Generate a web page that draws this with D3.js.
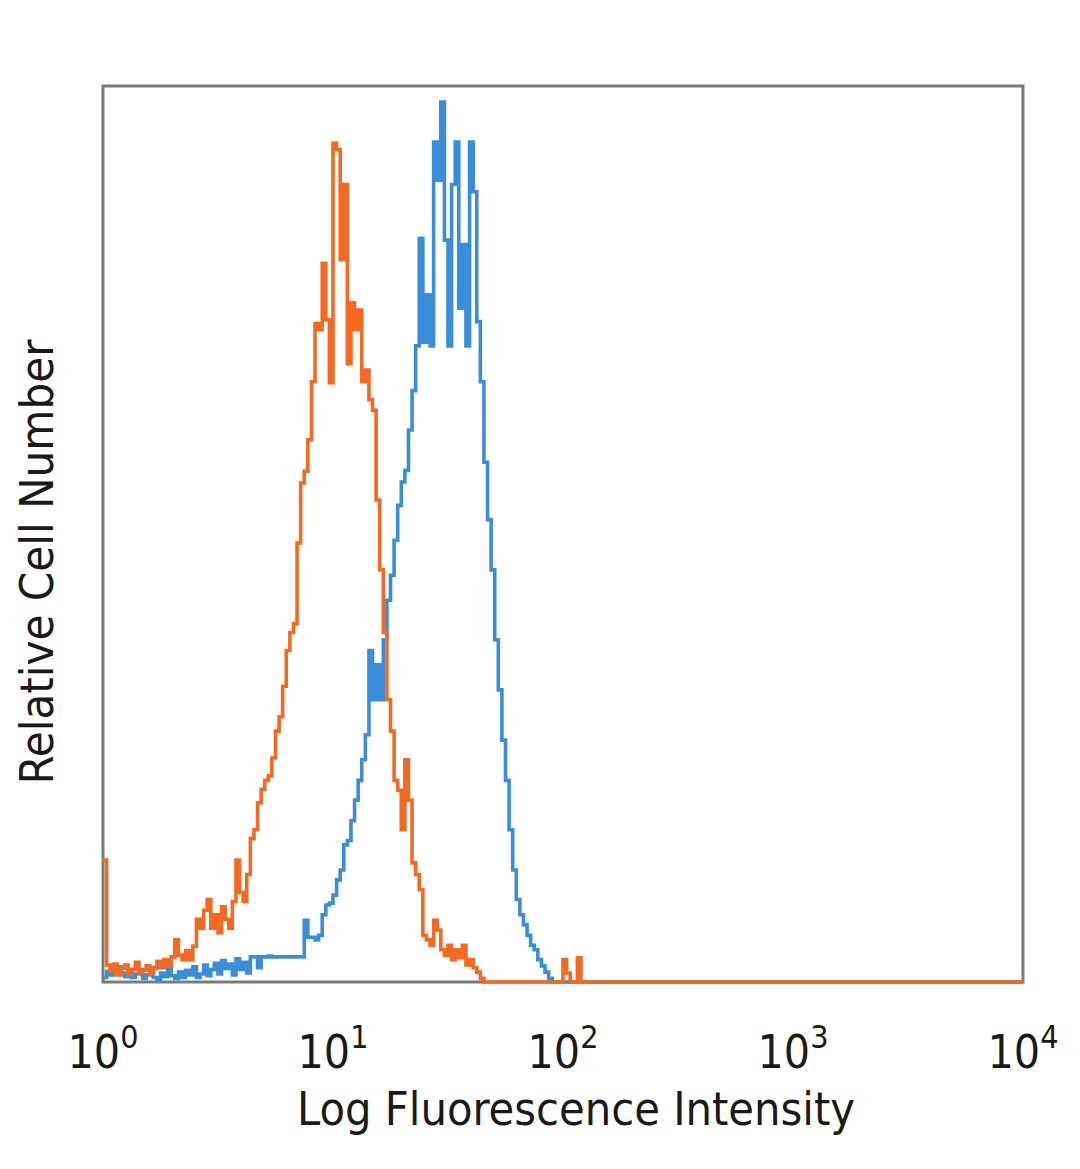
<!DOCTYPE html>
<html>
<head>
<meta charset="utf-8">
<script src="https://cdn.jsdelivr.net/npm/d3@7"></script>
<style>
  html, body { margin: 0; padding: 0; background: #ffffff; }
  svg { display: block; }
</style>
</head>
<body>
<svg id="chart" width="1080" height="1169"></svg>
<script>
// ---- Data (channel counts, 64 channels per decade, starting at 10^0) ----
const channelsPerDecade = 64;
const totalChannels = 256;
const tickExponents = [0, 1, 2, 3, 4];
const xAxisTitle = "Log Fluorescence Intensity";
const yAxisTitle = "Relative Cell Number";

// Orange (control) histogram, channel 0 onward; later channels are 0
const orangeCounts = [
  13.6, 1.9, 1.2, 2.0, 0.8, 1.5, 1.9, 0.9, 1.4, 2.2,
  1.0, 1.3, 1.8, 0.9, 1.5, 2.3, 1.6, 2.5, 1.8, 2.8,
  4.7, 3.0, 2.5, 3.5, 2.5, 4.0, 7.0, 6.0, 8.0, 9.2,
  6.0, 7.5, 5.5, 8.4, 7.0, 6.0, 9.0, 13.6, 10.0, 9.0,
  12.0, 16.0, 17.0, 20.0, 21.5, 22.5, 23.0, 25.0, 28.0, 29.6,
  33.0, 37.0, 39.0, 40.0, 49.0, 55.7, 57.0, 60.5, 67.0, 73.5,
  72.8, 80.2, 73.9, 66.9, 93.6, 92.9, 80.6, 89.0, 69.0, 75.8,
  72.8, 75.0, 67.0, 68.3, 65.0, 63.8, 53.8, 46.0, 39.0, 31.5,
  28.0, 22.5, 21.4, 17.0, 24.8, 20.3, 13.3, 12.0, 10.3, 5.2,
  4.7, 4.1, 6.9, 5.8, 3.6, 3.0, 4.1, 2.5, 3.6, 2.7,
  4.1, 1.9, 2.5, 1.6, 1.1, 0.4, 0, 0, 0, 0,
  0, 0, 0, 0, 0, 0, 0, 0, 0, 0,
  0, 0, 0, 0, 0, 0, 0, 0, 2.5, 1.0,
  0, 0, 2.7, 0, 0, 0
];

// Blue (stained) histogram
const blueCounts = [
  0.5, 1.2, 0.8, 1.6, 1.7, 1.0, 0.6, 1.3, 0.5, 0.9,
  1.4, 0.4, 0.8, 1.6, 0.5, 0.3, 1.0, 0.6, 1.8, 0.7,
  0.4, 1.1, 0.5, 1.3, 0.8, 1.7, 0.5, 0.9, 1.9, 0.7,
  1.4, 2.1, 0.9, 2.4, 1.5, 2.0, 0.8, 2.6, 1.4, 2.2,
  1.0, 2.8, 2.8, 1.6, 2.8, 2.8, 2.9, 2.8, 2.8, 2.8,
  2.8, 2.8, 2.8, 2.8, 2.8, 2.8, 6.9, 5.0, 5.0, 4.7,
  5.2, 7.5, 8.6, 8.8, 9.7, 11.4, 12.5, 15.3, 15.8, 18.0,
  20.3, 22.5, 24.8, 27.6, 37.0, 31.5, 35.4, 31.5, 38.2, 42.6,
  45.4, 49.3, 53.2, 55.8, 57.1, 61.6, 66.0, 71.0, 83.0, 71.4,
  76.7, 71.0, 93.75, 89.5, 98.2, 82.8, 71.0, 89.0, 93.75, 75.2,
  82.3, 71.0, 93.75, 88.2, 73.7, 67.0, 58.0, 51.6, 46.0, 38.2,
  32.6, 27.0, 22.5, 17.0, 12.5, 9.2, 7.5, 6.4, 5.2, 4.1,
  3.6, 2.5, 1.8, 1.1, 0.4, 0
];

// ---- Layout ----
const margin = { left: 103, top: 86, right: 1023, bottom: 982 };
const svg = d3.select("#chart");

const x = d3.scaleLog().domain([1, 1e4]).range([margin.left, margin.right]);
const y = d3.scaleLinear().domain([0, 100]).range([margin.bottom, margin.top]);

function toPoints(counts) {
  const pts = counts.map((c, i) => [Math.pow(10, i / channelsPerDecade), c]);
  pts.push([Math.pow(10, counts.length / channelsPerDecade), 0]);
  pts.push([Math.pow(10, totalChannels / channelsPerDecade), 0]);
  return pts;
}

const line = d3.line()
  .x(d => x(d[0]))
  .y(d => y(d[1]))
  .curve(d3.curveStepAfter);

// frame
svg.append("rect")
  .attr("x", margin.left)
  .attr("y", margin.top)
  .attr("width", margin.right - margin.left)
  .attr("height", margin.bottom - margin.top)
  .attr("fill", "none")
  .attr("stroke", "#7b7b7b")
  .attr("stroke-width", 3);

const plot = svg.append("g");
plot.append("path")
  .datum(toPoints(blueCounts))
  .attr("d", line)
  .attr("fill", "none")
  .attr("stroke", "#3a8dd8")
  .attr("stroke-width", 3.6)
  .attr("stroke-linejoin", "miter");

plot.append("path")
  .datum(toPoints(orangeCounts))
  .attr("d", line)
  .attr("fill", "none")
  .attr("stroke", "#f26a22")
  .attr("stroke-width", 3.6)
  .attr("stroke-linejoin", "miter");

// x tick labels as 10^n
const fontFam = "'Liberation Sans Narrow', 'DejaVu Sans Condensed', 'Liberation Sans', sans-serif";
const tickG = svg.append("g");
tickExponents.forEach(e => {
  const t = tickG.append("text")
    .attr("x", x(Math.pow(10, e)))
    .attr("y", 1068)
    .attr("text-anchor", "middle")
    .attr("font-family", fontFam)
    .attr("font-size", 46)
    .attr("fill", "#1a1a1a");
  t.append("tspan").text("10");
  t.append("tspan").attr("dy", -20).attr("font-size", 32).text(String(e));
});

// axis titles
svg.append("text")
  .attr("x", 576)
  .attr("y", 1125)
  .attr("text-anchor", "middle")
  .attr("font-family", fontFam)
  .attr("font-size", 46)
  .attr("fill", "#1a1a1a")
  .attr("textLength", 558)
  .attr("lengthAdjust", "spacingAndGlyphs")
  .text(xAxisTitle);

svg.append("text")
  .attr("transform", "translate(53,562) rotate(-90)")
  .attr("text-anchor", "middle")
  .attr("font-family", fontFam)
  .attr("font-size", 46)
  .attr("fill", "#1a1a1a")
  .attr("textLength", 445)
  .attr("lengthAdjust", "spacingAndGlyphs")
  .text(yAxisTitle);
</script>
</body>
</html>
